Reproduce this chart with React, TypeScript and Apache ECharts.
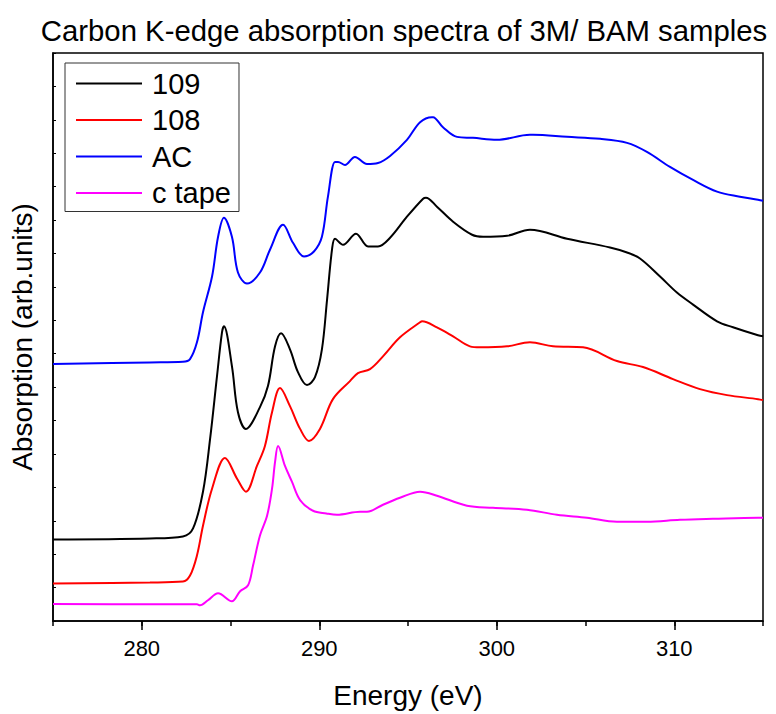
import React, { useEffect, useRef } from "react";
import * as echarts from "echarts";

const titleText = "Carbon K-edge absorption spectra of 3M/ BAM samples";
const xName = "Energy (eV)";
const yName = "Absorption (arb.units)";
const seriesNames = ["109", "108", "AC", "c tape"];
const seriesColors = ["#000000", "#ff0000", "#0000ff", "#ff00ff"];

const s109: [number, number][] = [
  [275, 2.44], [280.46, 2.47], [282.32, 2.53], [282.89, 2.77], [283.45, 3.87],
  [283.85, 5.45], [284.24, 7.33], [284.52, 8.64], [284.63, 8.82], [285.08, 7.63],
  [285.42, 6.25], [285.87, 5.75], [286.66, 6.4], [287.11, 7.03], [287.51, 8.22],
  [287.85, 8.61], [288.35, 8.13], [288.8, 7.45], [289.31, 7.06], [289.76, 7.3],
  [290.15, 8.13], [290.44, 9.62], [290.72, 11.12], [290.89, 11.44], [291.34, 11.26],
  [292.07, 11.59], [292.75, 11.21], [293.31, 11.21], [293.99, 11.47], [294.94, 12.1],
  [295.85, 12.64], [296.01, 12.67], [296.63, 12.4], [297.54, 11.95], [298.61, 11.56],
  [299.23, 11.5], [300.58, 11.53], [301.87, 11.71], [303.96, 11.44], [306.38, 11.18],
  [307.34, 11.03], [308.07, 10.85], [309.2, 10.31], [310.15, 9.83], [311.06, 9.47],
  [312.41, 8.97], [313.31, 8.79], [314.72, 8.55], [315, 8.52],
];

const s108: [number, number][] = [
  [275, 1.12], [280.46, 1.15], [282.32, 1.18], [282.72, 1.36], [283.11, 1.96],
  [283.45, 2.85], [283.96, 3.96], [284.69, 4.88], [285.37, 4.26], [285.87, 3.87],
  [286.49, 4.64], [286.94, 5.24], [287.34, 6.25], [287.79, 6.97], [288.35, 6.43],
  [288.92, 5.75], [289.42, 5.39], [290.04, 5.75], [290.77, 6.64], [291.73, 7.18],
  [292.18, 7.42], [292.86, 7.54], [293.59, 7.92], [294.55, 8.49], [295.68, 8.94],
  [295.79, 8.97], [296.63, 8.79], [297.54, 8.52], [298.49, 8.22], [299.06, 8.19],
  [300.58, 8.22], [301.87, 8.34], [303.17, 8.22], [304.86, 8.19], [306.77, 7.78],
  [308.24, 7.6], [309.93, 7.24], [311.45, 6.94], [312.97, 6.76], [314.72, 6.64],
  [315, 6.61],
];

const sAC: [number, number][] = [
  [275, 7.69], [280.46, 7.74], [282.32, 7.76], [282.72, 7.84], [283.11, 8.34],
  [283.45, 9.24], [283.96, 10.31], [284.3, 11.5], [284.63, 12.07], [285.08, 11.5],
  [285.42, 10.43], [285.93, 10.1], [286.66, 10.43], [287.23, 11.12], [287.96, 11.86],
  [288.52, 11.32], [289.14, 10.91], [289.7, 11.06], [290.15, 11.5], [290.49, 12.7],
  [290.89, 13.74], [291.06, 13.74], [291.45, 13.65], [292.01, 13.89], [292.69, 13.68],
  [293.31, 13.71], [293.99, 13.92], [294.94, 14.4], [295.68, 14.93], [296.35, 15.08],
  [296.41, 15.08], [296.97, 14.78], [297.76, 14.49], [298.66, 14.46], [300.01, 14.4],
  [301.87, 14.55], [302.04, 14.55], [303.96, 14.49], [305.82, 14.43], [307.34, 14.31],
  [308.46, 14.04], [309.76, 13.59], [311.06, 13.2], [312.41, 12.85], [313.7, 12.7],
  [314.72, 12.61], [315, 12.58],
];

const sTape: [number, number][] = [
  [275, 0.51], [280.46, 0.5], [283.11, 0.5], [283.28, 0.47], [283.73, 0.62],
  [284.3, 0.83], [285.08, 0.59], [285.54, 0.89], [285.99, 1.07], [286.27, 1.66],
  [286.66, 2.56], [287.06, 3.15], [287.34, 3.96], [287.51, 4.76], [287.68, 5.24],
  [288.07, 4.64], [288.46, 4.17], [288.92, 3.62], [289.65, 3.3], [290.4, 3.22],
  [291.0, 3.18], [292.3, 3.27], [292.69, 3.27], [293.59, 3.48],
  [293.99, 3.57], [294.55, 3.69], [295.68, 3.87], [296.63, 3.75], [298.32, 3.45],
  [299.79, 3.39], [301.7, 3.33], [303.39, 3.18], [305.08, 3.09], [306.77, 2.97],
  [308.46, 2.97], [310.32, 3.03], [312.18, 3.06], [314.72, 3.09], [315, 3.09],
];

const allSeries = [s109, s108, sAC, sTape];
const FONT = "'Liberation Sans', Arial, Helvetica, sans-serif";

export default function App() {
  const ref = useRef<HTMLDivElement>(null);
  useEffect(() => {
    if (!ref.current) return;
    const chart = echarts.init(ref.current, undefined, { renderer: "svg" });
    chart.setOption({
      animation: false,
      backgroundColor: "#ffffff",
      title: {
        text: titleText,
        left: 399,
        top: 11,
        textAlign: "center",
        textStyle: { fontFamily: FONT, fontSize: 29.3, fontWeight: "normal", color: "#000" },
      },
      legend: {
        orient: "vertical",
        left: 65,
        top: 63,
        padding: [6, 8, 4, 11],
        itemWidth: 66,
        itemHeight: 2,
        itemGap: 7.5,
        icon: "rect",
        borderColor: "#333",
        borderWidth: 1,
        backgroundColor: "#fff",
        data: seriesNames,
        textStyle: { fontFamily: FONT, fontSize: 29, lineHeight: 29, color: "#000", padding: [0, 0, 0, 5] },
      },
      grid: {
        left: 53,
        top: 53,
        right: 13,
        bottom: 91,
        show: true,
        borderColor: "#000",
        borderWidth: 1.5,
        containLabel: false,
      },
      xAxis: [
        {
          type: "value",
          position: "bottom",
          min: 275,
          max: 315,
          splitNumber: 4,
          name: xName,
          nameLocation: "middle",
          nameGap: 60,
          nameTextStyle: { fontFamily: FONT, fontSize: 28, color: "#000" },
          axisLine: { show: true, lineStyle: { color: "#000", width: 1.5 } },
          axisTick: { show: true, inside: false, length: 9, lineStyle: { color: "#000", width: 1.5 } },
          axisLabel: {
            margin: 16,
            fontFamily: FONT,
            fontSize: 22,
            color: "#000",
            showMinLabel: false,
            showMaxLabel: false,
            formatter: (v: number) => (Math.round(v) % 10 === 0 ? String(v) : ""),
          },
          splitLine: { show: false },
        },
        {
          type: "value",
          position: "bottom",
          offset: 0,
          min: 275,
          max: 315,
          interval: 5,
          axisLine: { show: false },
          axisTick: { show: true, inside: false, length: 5, lineStyle: { color: "#000", width: 1.5 } },
          axisLabel: { show: false },
          splitLine: { show: false },
        },
      ],
      yAxis: {
        type: "value",
        min: 0,
        max: 17,
        interval: 1,
        name: yName,
        nameLocation: "middle",
        nameGap: 17,
        nameTextStyle: { fontFamily: FONT, fontSize: 28, color: "#000" },
        axisLine: { show: true, lineStyle: { color: "#000", width: 1.5 } },
        axisTick: { show: true, inside: true, length: 3, lineStyle: { color: "#000", width: 1 } },
        axisLabel: { show: false },
        splitLine: { show: false },
      },
      series: allSeries.map((d, i) => ({
        name: seriesNames[i],
        type: "line",
        xAxisIndex: 0,
        data: d,
        symbol: "none",
        smooth: 0.35,
        lineStyle: { color: seriesColors[i], width: 2 },
        itemStyle: { color: seriesColors[i] },
      })),
    });
    return () => chart.dispose();
  }, []);
  return (
    <div
      ref={ref}
      style={{ position: "fixed", left: 0, top: 0, width: 776, height: 714, background: "#fff" }}
    />
  );
}
